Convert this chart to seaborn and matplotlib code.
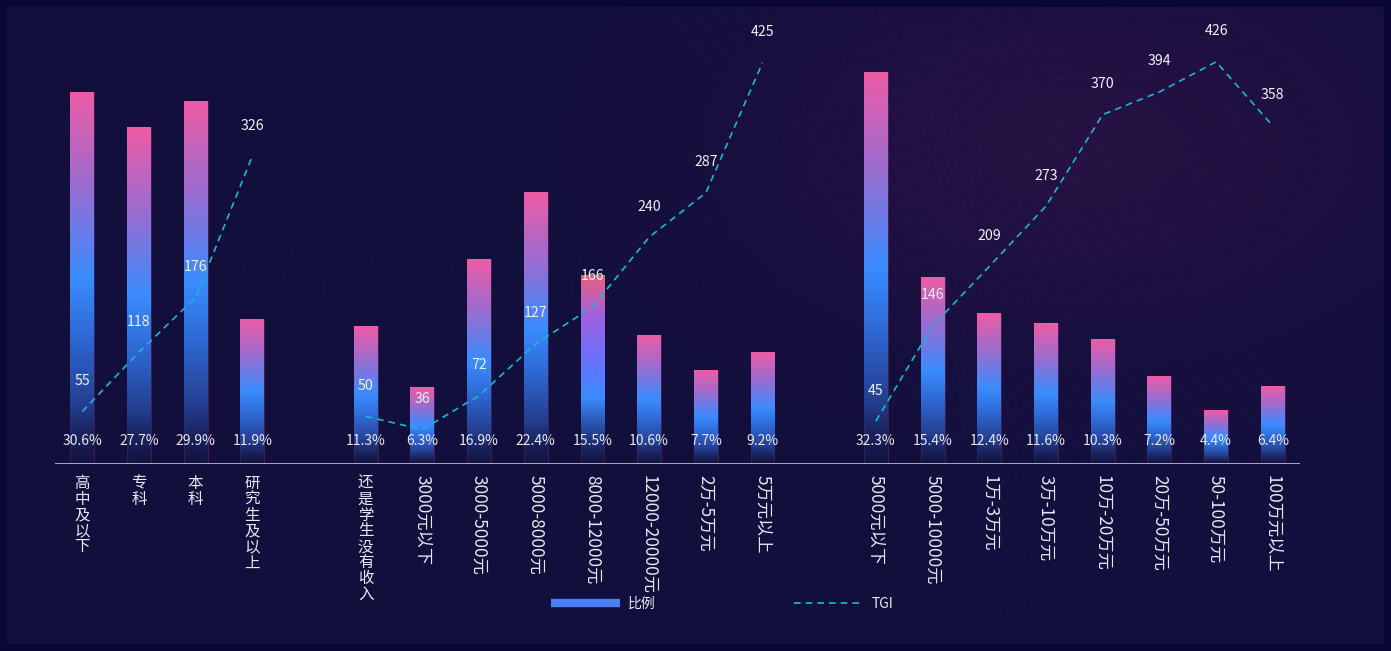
import numpy as np
import pandas as pd
import matplotlib
matplotlib.use('Agg')
import matplotlib.pyplot as plt
import seaborn as sns
from matplotlib.colors import LinearSegmentedColormap
from matplotlib.lines import Line2D

# data
edu_labels = ['高中及以下', '专科', '本科', '研究生及以上']
edu_pct = [30.6, 27.7, 29.9, 11.9]
edu_tgi = [55, 118, 176, 326]

income_labels = ['还是学生没有收入', '3000元以下', '3000-5000元', '5000-8000元',
                 '8000-12000元', '12000-20000元', '2万-5万元', '5万元以上']
income_pct = [11.3, 6.3, 16.9, 22.4, 15.5, 10.6, 7.7, 9.2]
income_tgi = [50, 36, 72, 127, 166, 240, 287, 425]

asset_labels = ['5000元以下', '5000-10000元', '1万-3万元', '3万-10万元',
                '10万-20万元', '20万-50万元', '50-100万元', '100万元以上']
asset_pct = [32.3, 15.4, 12.4, 11.6, 10.3, 7.2, 4.4, 6.4]
asset_tgi = [45, 146, 209, 273, 370, 394, 426, 358]

highlight_label = '8000-12000元'

groups = [('edu', edu_labels, edu_pct, edu_tgi),
          ('income', income_labels, income_pct, income_tgi),
          ('asset', asset_labels, asset_pct, asset_tgi)]

# one empty slot between groups
rows = []
pos = 0
for name, labels, pct, tgi in groups:
    for lab, p, t in zip(labels, pct, tgi):
        rows.append({'group': name, 'label': lab, 'pct': p, 'tgi': t, 'pos': pos})
        pos += 1
    pos += 1
df = pd.DataFrame(rows)

sns.set_theme(style='white')
plt.rcParams['font.family'] = ['Noto Sans CJK SC', 'DejaVu Sans']
plt.rcParams['axes.unicode_minus'] = False

W, H = 1391, 651
fig = plt.figure(figsize=(W / 100, H / 100), dpi=100)
fig.patch.set_facecolor('#0a0636')

# background panel with a soft purple glow and faint curves
bg = fig.add_axes([7 / W, 7 / H, (W - 14) / W, (H - 14) / H])
bg.set_axis_off()
gy, gx = np.mgrid[0:1:200j, 0:1:400j]
base = np.array([0x13, 0x0f, 0x3d]) / 255
glow = np.array([0x2c, 0x12, 0x45]) / 255
g = np.exp(-(((gx - 0.78) / 0.22) ** 2 + ((gy - 0.22) / 0.28) ** 2))
img = base + (glow - base) * g[..., None] * 0.75
bg.imshow(img, extent=[0, 1, 0, 1], origin='upper', aspect='auto')
t = np.linspace(0, 1, 200)
for k in range(26):
    xs = 0.48 + k * 0.011 + 0.25 * t + 0.03 * np.sin(3 * t + k * 0.2)
    bg.plot(xs, 1 - t, color='#2b3c96', alpha=0.10, lw=0.8)
for k in range(18):
    r = 0.10 + k * 0.025
    a = np.linspace(0, np.pi, 200)
    bg.plot(0.80 + r * np.cos(a) * 1.2, 0.55 + r * np.sin(a) * 0.9,
            color='#5a2060', alpha=0.10, lw=0.8)
bg.set_xlim(0, 1)
bg.set_ylim(0, 1)

# main axes: baseline sits at y=463.5 px
ax = fig.add_axes([55 / W, 187.5 / H, 1245 / W, 443.5 / H])
ax.set_facecolor('none')

sns.barplot(data=df, x='pos', y='pct', native_scale=True, width=0.42,
            errorbar=None, color='#3a8cff', ax=ax)

cmap = LinearSegmentedColormap.from_list('bar', [
    (0.0, (0.09, 0.11, 0.30, 0.35)),
    (0.15, '#243c8c'),
    (0.35, '#2f6bd8'),
    (0.50, '#3a8cff'),
    (0.75, '#9a6cd0'),
    (1.0, '#ee5ca6')])
cmap_hl = LinearSegmentedColormap.from_list('bar_hl', [
    (0.0, (0.09, 0.11, 0.30, 0.35)),
    (0.15, '#243c8c'),
    (0.35, '#3a8cff'),
    (0.55, '#6a70ff'),
    (0.78, '#a060e0'),
    (1.0, '#e8607e')])
grad = np.linspace(0, 1, 256).reshape(-1, 1)

bars = sorted(ax.patches, key=lambda p: p.get_x())
for patch, (_, row) in zip(bars, df.iterrows()):
    x0, w, h = patch.get_x(), patch.get_width(), patch.get_height()
    cm = cmap_hl if row['label'] == highlight_label else cmap
    im = ax.imshow(grad, cmap=cm, origin='lower', aspect='auto',
                   extent=[x0, x0 + w, 0, h], zorder=2)
    im.set_clip_path(patch)
    patch.set_facecolor('none')
    patch.set_edgecolor((0.80, 0.35, 0.65, 0.22))
    patch.set_linewidth(0.8)
    ax.annotate(f"{row['pct']}%", xy=(row['pos'], 0), xytext=(0, 16),
                textcoords='offset points', ha='center', va='center',
                color='#e8e8f0', fontsize=10, zorder=5)

    lab = row['label']
    if any(c.isascii() for c in lab):
        ax.annotate(lab, xy=(row['pos'], 0), xytext=(0, -8),
                    textcoords='offset points', ha='center', va='top',
                    rotation=270, color='#e8e8f0', fontsize=12.4,
                    annotation_clip=False)
    else:
        ax.annotate('\n'.join(lab), xy=(row['pos'], 0), xytext=(0, -8),
                    textcoords='offset points', ha='center', va='top',
                    linespacing=0.92, color='#e8e8f0', fontsize=11.2,
                    annotation_clip=False)

ax.set_xlim(-0.48, df['pos'].max() + 0.48)
ax.set_ylim(0, 443.5 / 12.13)
ax.set_xlabel('')
ax.set_ylabel('')
ax.set_xticks([])
ax.set_yticks([])
sns.despine(ax=ax, left=True, bottom=True)

# TGI on its own scale
ax2 = ax.twinx()
ax2.set_facecolor('none')
for name, sub in df.groupby('group', sort=False):
    sns.lineplot(data=sub, x='pos', y='tgi', ax=ax2, color='#19b9d2',
                 lw=1.2, linestyle=(0, (4, 3)), zorder=4)
    for _, row in sub.iterrows():
        ax2.annotate(str(row['tgi']), xy=(row['pos'], row['tgi']), xytext=(0, 22),
                     textcoords='offset points', ha='center', va='center',
                     color='#f0f0f8', fontsize=10.2, zorder=7)
ax2.set_ylim(0, 443.5 / 0.943)
ax2.set_xlim(ax.get_xlim())
ax2.set_xlabel('')
ax2.set_ylabel('')
ax2.set_yticks([])
ax2.set_xticks([])
for s in ax2.spines.values():
    s.set_visible(False)
# baseline drawn on the top axes so nothing covers it
ax2.axhline(0, color='#d8d8e0', lw=1.8, zorder=8)

handles = [Line2D([], [], color='#4b80f2', lw=6, solid_capstyle='butt'),
           Line2D([], [], color='#19b9d2', lw=1.2, linestyle=(0, (4, 3)))]
leg = fig.legend(handles, ['比例', 'TGI'], loc='center', ncol=2,
                 bbox_to_anchor=(0.519, 1 - 604 / H), frameon=False,
                 handlelength=5.0, handletextpad=0.55, columnspacing=10.0,
                 fontsize=10)
for txt in leg.get_texts():
    txt.set_color('#e8e8f0')

fig.savefig('out.png', dpi=100, facecolor=fig.get_facecolor())
